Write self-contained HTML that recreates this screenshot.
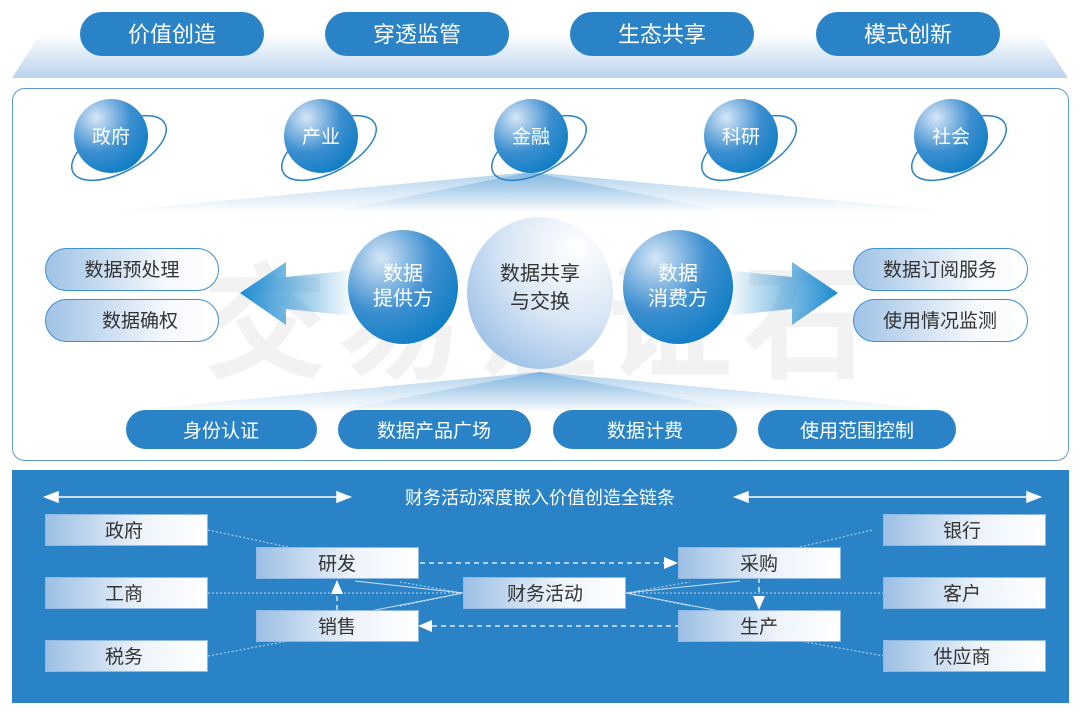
<!DOCTYPE html>
<html><head><meta charset="utf-8"><style>
html,body{margin:0;padding:0;background:#fff;}
svg{display:block;font-family:"Liberation Sans","Noto Sans CJK SC",sans-serif;}
</style></head><body>
<svg width="1080" height="713" viewBox="0 0 1080 713" xmlns="http://www.w3.org/2000/svg">
<defs>
<linearGradient id="band" x1="0" y1="0" x2="0" y2="1"><stop offset="0" stop-color="#fff"/><stop offset="1" stop-color="#b9d3ee"/></linearGradient>
<radialGradient id="sph" cx="0.3" cy="0.25" r="0.85"><stop offset="0" stop-color="#d6e6f6"/><stop offset="0.55" stop-color="#3d8fd0"/><stop offset="1" stop-color="#0b7cc3"/></radialGradient>
<radialGradient id="big" cx="0.75" cy="0.2" r="0.9"><stop offset="0" stop-color="#ffffff"/><stop offset="0.55" stop-color="#d8e6f5"/><stop offset="1" stop-color="#9fc2e8"/></radialGradient>
<linearGradient id="pillg" x1="0" y1="0" x2="1" y2="0"><stop offset="0" stop-color="#9fc2e6"/><stop offset="0.7" stop-color="#f6f9fd"/><stop offset="1" stop-color="#fff"/></linearGradient>
<linearGradient id="boxg" x1="0" y1="0" x2="1" y2="0"><stop offset="0" stop-color="#9cbfe4"/><stop offset="0.6" stop-color="#eef4fb"/><stop offset="1" stop-color="#fff"/></linearGradient>
<linearGradient id="arrL" x1="0" y1="0" x2="1" y2="0"><stop offset="0" stop-color="#1a8ad0"/><stop offset="1" stop-color="#1a8ad0" stop-opacity="0"/></linearGradient>
<linearGradient id="arrR" x1="1" y1="0" x2="0" y2="0"><stop offset="0" stop-color="#1a8ad0"/><stop offset="1" stop-color="#1a8ad0" stop-opacity="0"/></linearGradient>
<linearGradient id="fanD" x1="0" y1="0" x2="0" y2="1"><stop offset="0" stop-color="#3d8fd0" stop-opacity="0.8"/><stop offset="1" stop-color="#3d8fd0" stop-opacity="0"/></linearGradient>
<linearGradient id="fanU" x1="0" y1="1" x2="0" y2="0"><stop offset="0" stop-color="#3d8fd0" stop-opacity="0"/><stop offset="1" stop-color="#3d8fd0" stop-opacity="0.8"/></linearGradient>
</defs>

<polygon points="40,34 1040,34 1068,78 12,78" fill="url(#band)"/>
<g fill="#2a83c6">
<rect x="80" y="12" width="184" height="44" rx="22"/>
<rect x="325" y="12" width="184" height="44" rx="22"/>
<rect x="570" y="12" width="184" height="44" rx="22"/>
<rect x="816" y="12" width="184" height="44" rx="22"/>
</g>
<g fill="#fff" font-size="22" text-anchor="middle">
<text x="172" y="42">价值创造</text><text x="417" y="42">穿透监管</text><text x="662" y="42">生态共享</text><text x="908" y="42">模式创新</text>
</g>

<rect x="12.5" y="88.5" width="1056" height="372" rx="12" fill="#fff" stroke="#5b9bd5"/>
<text x="540" y="368" font-size="125" font-weight="bold" fill="#f2f2f2" text-anchor="middle" letter-spacing="10">交易证证石</text>

<polygon points="531,172 100,212 960,212" fill="url(#fanD)" opacity="0.5"/>
<polygon points="531,172 330,212 730,212" fill="url(#fanD)" opacity="0.5"/>
<polygon points="540,372 110,412 970,412" fill="url(#fanU)" opacity="0.5"/>
<polygon points="540,372 330,412 750,412" fill="url(#fanU)" opacity="0.5"/>

<g>
<g transform="translate(111,136)"><ellipse cx="8" cy="12" rx="52" ry="24" transform="rotate(-28 8 12)" fill="none" stroke="#2a83c6" stroke-width="1.5"/><circle r="37" fill="url(#sph)"/></g>
<g transform="translate(321,136)"><ellipse cx="8" cy="12" rx="52" ry="24" transform="rotate(-28 8 12)" fill="none" stroke="#2a83c6" stroke-width="1.5"/><circle r="37" fill="url(#sph)"/></g>
<g transform="translate(531,136)"><ellipse cx="8" cy="12" rx="52" ry="24" transform="rotate(-28 8 12)" fill="none" stroke="#2a83c6" stroke-width="1.5"/><circle r="37" fill="url(#sph)"/></g>
<g transform="translate(741,136)"><ellipse cx="8" cy="12" rx="52" ry="24" transform="rotate(-28 8 12)" fill="none" stroke="#2a83c6" stroke-width="1.5"/><circle r="37" fill="url(#sph)"/></g>
<g transform="translate(951,136)"><ellipse cx="8" cy="12" rx="52" ry="24" transform="rotate(-28 8 12)" fill="none" stroke="#2a83c6" stroke-width="1.5"/><circle r="37" fill="url(#sph)"/></g>
</g>
<g fill="#fff" font-size="19" text-anchor="middle">
<text x="111" y="143">政府</text><text x="321" y="143">产业</text><text x="531" y="143">金融</text><text x="741" y="143">科研</text><text x="951" y="143">社会</text>
</g>

<g fill="url(#pillg)" stroke="#3d8fd0">
<rect x="45.5" y="248.5" width="173" height="42" rx="21"/>
<rect x="45.5" y="299.5" width="173" height="42" rx="21"/>
<rect x="853.5" y="248.5" width="174" height="42" rx="21"/>
<rect x="853.5" y="299.5" width="174" height="42" rx="21"/>
</g>
<g fill="#333" font-size="19" text-anchor="middle">
<text x="132" y="276">数据预处理</text><text x="140" y="327">数据确权</text>
<text x="940" y="276">数据订阅服务</text><text x="940" y="327">使用情况监测</text>
</g>

<polygon points="240,293 286,262 286,277 355,270 355,316 286,309 286,325" fill="url(#arrL)"/>
<polygon points="838,293 792,262 792,277 725,270 725,316 792,309 792,325" fill="url(#arrR)"/>

<ellipse cx="540" cy="293" rx="73" ry="76" fill="url(#big)"/>
<ellipse cx="403" cy="287" rx="55" ry="57" fill="url(#sph)"/>
<ellipse cx="678" cy="287" rx="55" ry="57" fill="url(#sph)"/>
<g font-size="20" text-anchor="middle">
<text x="403" y="280" fill="#fff">数据</text><text x="403" y="305" fill="#fff">提供方</text>
<text x="678" y="280" fill="#fff">数据</text><text x="678" y="305" fill="#fff">消费方</text>
<text x="540" y="280" fill="#333">数据共享</text><text x="540" y="308" fill="#333">与交换</text>
</g>

<g fill="#2a83c6">
<rect x="126" y="410" width="191" height="39" rx="19.5"/>
<rect x="338" y="410" width="193" height="39" rx="19.5"/>
<rect x="553" y="410" width="184" height="39" rx="19.5"/>
<rect x="758" y="410" width="198" height="39" rx="19.5"/>
</g>
<g fill="#fff" font-size="19" text-anchor="middle">
<text x="221" y="437">身份认证</text><text x="434" y="437">数据产品广场</text><text x="645" y="437">数据计费</text><text x="857" y="437">使用范围控制</text>
</g>

<rect x="12" y="470" width="1057" height="233" fill="#2a83c6"/>
<g stroke="#fff" stroke-width="1.5" fill="#fff">
<line x1="55" y1="497" x2="340" y2="497"/><polygon points="45,497 58,492 58,502"/><polygon points="350,497 337,492 337,502"/>
<line x1="745" y1="497" x2="1030" y2="497"/><polygon points="735,497 748,492 748,502"/><polygon points="1040,497 1027,492 1027,502"/>
</g>
<text x="540" y="504" fill="#fff" font-size="18" text-anchor="middle">财务活动深度嵌入价值创造全链条</text>

<g stroke="#bcd6ef" stroke-width="1" stroke-dasharray="2,2" fill="none">
<line x1="208" y1="530" x2="288" y2="547"/>
<line x1="208" y1="593" x2="463" y2="593"/>
<line x1="208" y1="656" x2="288" y2="641"/>
<line x1="400" y1="582" x2="463" y2="593"/>
<line x1="400" y1="606" x2="463" y2="593"/>
<line x1="872" y1="530" x2="800" y2="547"/>
<line x1="626" y1="593" x2="884" y2="593"/>
<line x1="884" y1="656" x2="800" y2="641"/>
<line x1="626" y1="593" x2="690" y2="582"/>
<line x1="626" y1="593" x2="690" y2="606"/>
</g>
<g stroke="#cfe1f3" stroke-width="1" fill="none">
<line x1="355" y1="581" x2="463" y2="593"/><line x1="360" y1="613" x2="463" y2="593"/>
<line x1="740" y1="581" x2="626" y2="593"/><line x1="730" y1="613" x2="626" y2="593"/>
</g>
<g stroke="#fff" stroke-width="1.2" stroke-dasharray="5,4" fill="none">
<line x1="420" y1="563" x2="665" y2="563"/>
<line x1="432" y1="626" x2="678" y2="626"/>
<line x1="337" y1="610" x2="337" y2="592"/>
<line x1="759" y1="578" x2="759" y2="598"/>
</g>
<g fill="#fff">
<polygon points="678,563 664,557 664,569"/>
<polygon points="418,626 432,620 432,632"/>
<polygon points="337,580 331,594 343,594"/>
<polygon points="759,610 753,596 765,596"/>
</g>

<g fill="url(#boxg)" stroke="#8fb8e2">
<rect x="45.5" y="514.5" width="162" height="31"/>
<rect x="45.5" y="577.5" width="162" height="31"/>
<rect x="45.5" y="640.5" width="162" height="31"/>
<rect x="256.5" y="547.5" width="162" height="31"/>
<rect x="256.5" y="610.5" width="162" height="31"/>
<rect x="463.5" y="577.5" width="162" height="31"/>
<rect x="678.5" y="547.5" width="162" height="31"/>
<rect x="678.5" y="610.5" width="162" height="31"/>
<rect x="883.5" y="514.5" width="162" height="31"/>
<rect x="883.5" y="577.5" width="162" height="31"/>
<rect x="883.5" y="640.5" width="162" height="31"/>
</g>
<g fill="#333" font-size="19" text-anchor="middle">
<text x="124" y="537">政府</text><text x="124" y="600">工商</text><text x="124" y="663">税务</text>
<text x="337" y="570">研发</text><text x="337" y="633">销售</text><text x="545" y="600">财务活动</text>
<text x="759" y="570">采购</text><text x="759" y="633">生产</text>
<text x="962" y="537">银行</text><text x="962" y="600">客户</text><text x="962" y="663">供应商</text>
</g>
</svg>
</body></html>
